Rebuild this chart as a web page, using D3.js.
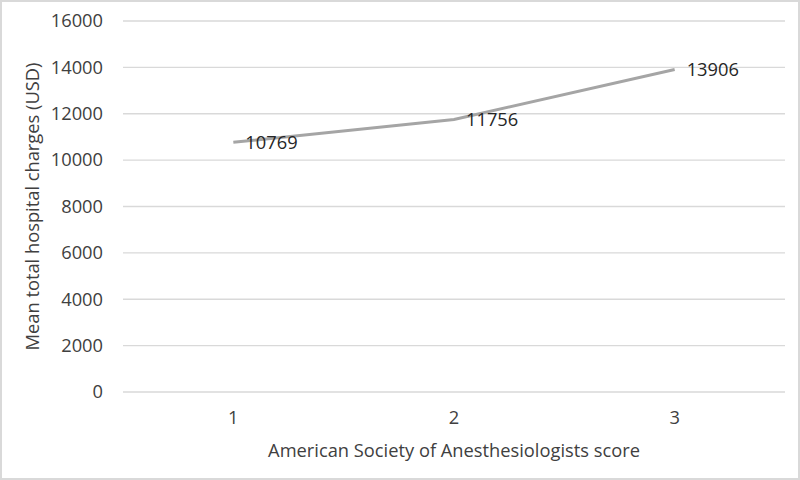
<!DOCTYPE html>
<html lang="en">
<head>
<meta charset="utf-8">
<title>Mean total hospital charges by ASA score</title>
<script src="https://d3js.org/d3.v7.min.js"></script>
<style>
  body { margin: 0; background: #fff; }
  svg { display: block; font-family: "Open Sans", sans-serif; }
</style>
</head>
<body>
<script>
// data
var categories = ["1", "2", "3"];
var charges = [10769, 11756, 13906];
var yTicks = [0, 2000, 4000, 6000, 8000, 10000, 12000, 14000, 16000];

var width = 800, height = 480;
var margin = {top: 21, right: 15, bottom: 88, left: 123};
var fs = 18.3;

var svg = d3.select("body").append("svg")
    .attr("width", width)
    .attr("height", height);

// outer frame
svg.append("rect")
    .attr("x", 1).attr("y", 1)
    .attr("width", width - 2).attr("height", height - 2)
    .attr("fill", "#fff")
    .attr("stroke", "#d9d9d9")
    .attr("stroke-width", 2);

var x = d3.scaleBand()
    .domain(categories)
    .range([margin.left, width - margin.right]);

var y = d3.scaleLinear()
    .domain([0, 16000])
    .range([height - margin.bottom, margin.top]);

// gridlines
svg.append("g")
    .selectAll("line")
    .data(yTicks)
    .enter().append("line")
    .attr("x1", margin.left)
    .attr("x2", width - margin.right)
    .attr("y1", function(d) { return y(d); })
    .attr("y2", function(d) { return y(d); })
    .attr("stroke", "#d9d9d9")
    .attr("stroke-width", 1.3);

// y axis labels
var yAxis = d3.axisLeft(y).tickValues(yTicks).tickFormat(d3.format("d")).tickSize(0).tickPadding(20);
svg.append("g")
    .attr("transform", "translate(" + margin.left + ",0)")
    .call(yAxis)
    .call(function(g) { g.select(".domain").remove(); })
    .selectAll("text")
    .attr("font-family", "Open Sans, sans-serif")
    .attr("font-size", fs)
    .attr("fill", "#404040");

// x axis labels
var xAxis = d3.axisBottom(x).tickSize(0).tickPadding(19);
svg.append("g")
    .attr("transform", "translate(0," + y(0) + ")")
    .call(xAxis)
    .call(function(g) { g.select(".domain").remove(); })
    .selectAll("text")
    .attr("font-family", "Open Sans, sans-serif")
    .attr("font-size", fs)
    .attr("fill", "#404040");

// line
var line = d3.line()
    .x(function(d, i) { return x(categories[i]) + x.bandwidth() / 2; })
    .y(function(d) { return y(d); });

svg.append("path")
    .datum(charges)
    .attr("d", line)
    .attr("fill", "none")
    .attr("stroke", "#a5a5a5")
    .attr("stroke-width", 3);

// data labels
svg.append("g")
    .selectAll("text")
    .data(charges)
    .enter().append("text")
    .attr("x", function(d, i) { return x(categories[i]) + x.bandwidth() / 2 + 12; })
    .attr("y", function(d) { return y(d); })
    .attr("dy", "0.35em")
    .attr("font-size", fs)
    .attr("fill", "#262626")
    .text(function(d) { return d; });

// axis titles
svg.append("text")
    .attr("x", x(categories[1]) + x.bandwidth() / 2)
    .attr("y", 457)
    .attr("text-anchor", "middle")
    .attr("font-size", fs)
    .attr("fill", "#404040")
    .text("American Society of Anesthesiologists score");

svg.append("text")
    .attr("transform", "translate(39," + y(8000) + ") rotate(-90)")
    .attr("text-anchor", "middle")
    .attr("font-size", fs)
    .attr("fill", "#404040")
    .text("Mean total hospital charges (USD)");
</script>
</body>
</html>
